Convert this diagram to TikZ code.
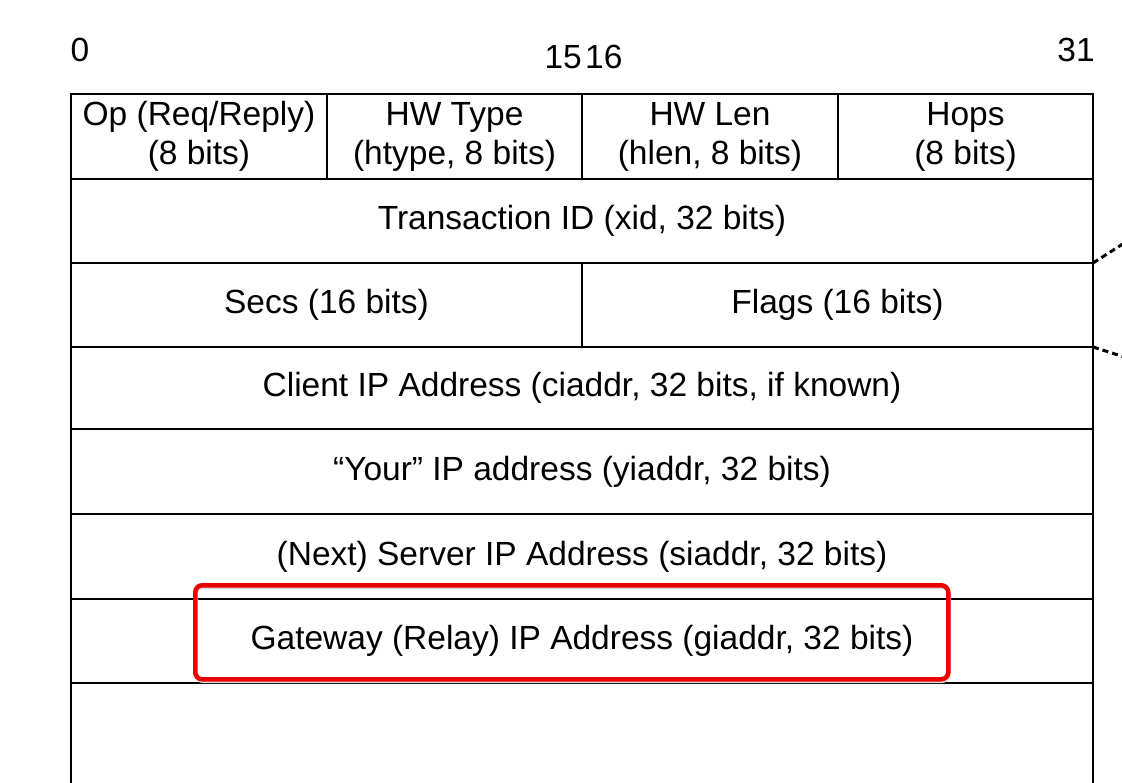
\documentclass[tikz,border=0pt]{standalone}
\usepackage{fontspec}
\setmainfont{Liberation Sans}
\begin{document}
\begin{tikzpicture}[x=1pt,y=-1pt,
  cell/.style={draw=black, line width=1.6pt, inner sep=0pt, outer sep=0pt, anchor=north west,
    align=center, font=\fontsize{33.5}{39}\selectfont},
  lbl/.style={inner sep=0pt, font=\fontsize{33.5}{39}\selectfont},
  leader/.style={line width=3pt, dash pattern=on 6pt off 4pt},
  hilite/.style={draw={rgb,255:red,235;green,0;blue,0}, line width=4.5pt, rounded corners=7pt}]
\useasboundingbox (0,0) rectangle (1122,782);
\clip (0,0) rectangle (1122,782);
\fill[white] (0,0) rectangle (1122,782);
% bit labels
\node[lbl] (b0) at (80,50) {0};
\node[lbl, anchor=east] (b15) at (582,57) {15};
\node[lbl, anchor=west] (b16) at (585,57) {16};
\node[lbl] (b31) at (1076,50) {31};
% row 1
\node[cell, minimum width=256, minimum height=85] (op) at (71,94) {Op (Req/Reply)\\(8 bits)};
\node[cell, minimum width=255, minimum height=85] (htype) at (327,94) {HW Type\\(htype, 8 bits)};
\node[cell, minimum width=256, minimum height=85] (hlen) at (582,94) {HW Len\\(hlen, 8 bits)};
\node[cell, minimum width=255, minimum height=85] (hops) at (838,94) {Hops\\(8 bits)};
% row 2
\node[cell, minimum width=1022, minimum height=84] (xid) at (71,179) {Transaction ID (xid, 32 bits)};
% row 3
\node[cell, minimum width=511, minimum height=84] (secs) at (71,263) {Secs (16 bits)};
\node[cell, minimum width=511, minimum height=84] (flags) at (582,263) {Flags (16 bits)};
% rows 4-7
\node[cell, minimum width=1022, minimum height=82] (ciaddr) at (71,347) {Client IP Address (ciaddr, 32 bits, if known)};
\node[cell, minimum width=1022, minimum height=85] (yiaddr) at (71,429) {“Your” IP address (yiaddr, 32 bits)};
\node[cell, minimum width=1022, minimum height=85] (siaddr) at (71,514) {(Next) Server IP Address (siaddr, 32 bits)};
\node[cell, minimum width=1022, minimum height=84] (giaddr) at (71,599) {Gateway (Relay) IP Address (giaddr, 32 bits)};
% row 8 (continues below)
\node[cell, minimum width=1022, minimum height=140] (more) at (71,683) {};
% leader lines to the right
\coordinate (l1) at (1140,233);
\coordinate (l2) at (1140,362);
\draw[leader] (xid.south east) -- (l1);
\draw[leader] (flags.south east) -- (l2);
% highlight box
\draw[gray!30, line width=4pt, rounded corners=7pt] (196,587) rectangle (949,681);
\node[hilite, minimum width=753, minimum height=94, anchor=north west, inner sep=0pt] (hl) at (193,583) {};
\end{tikzpicture}
\end{document}
